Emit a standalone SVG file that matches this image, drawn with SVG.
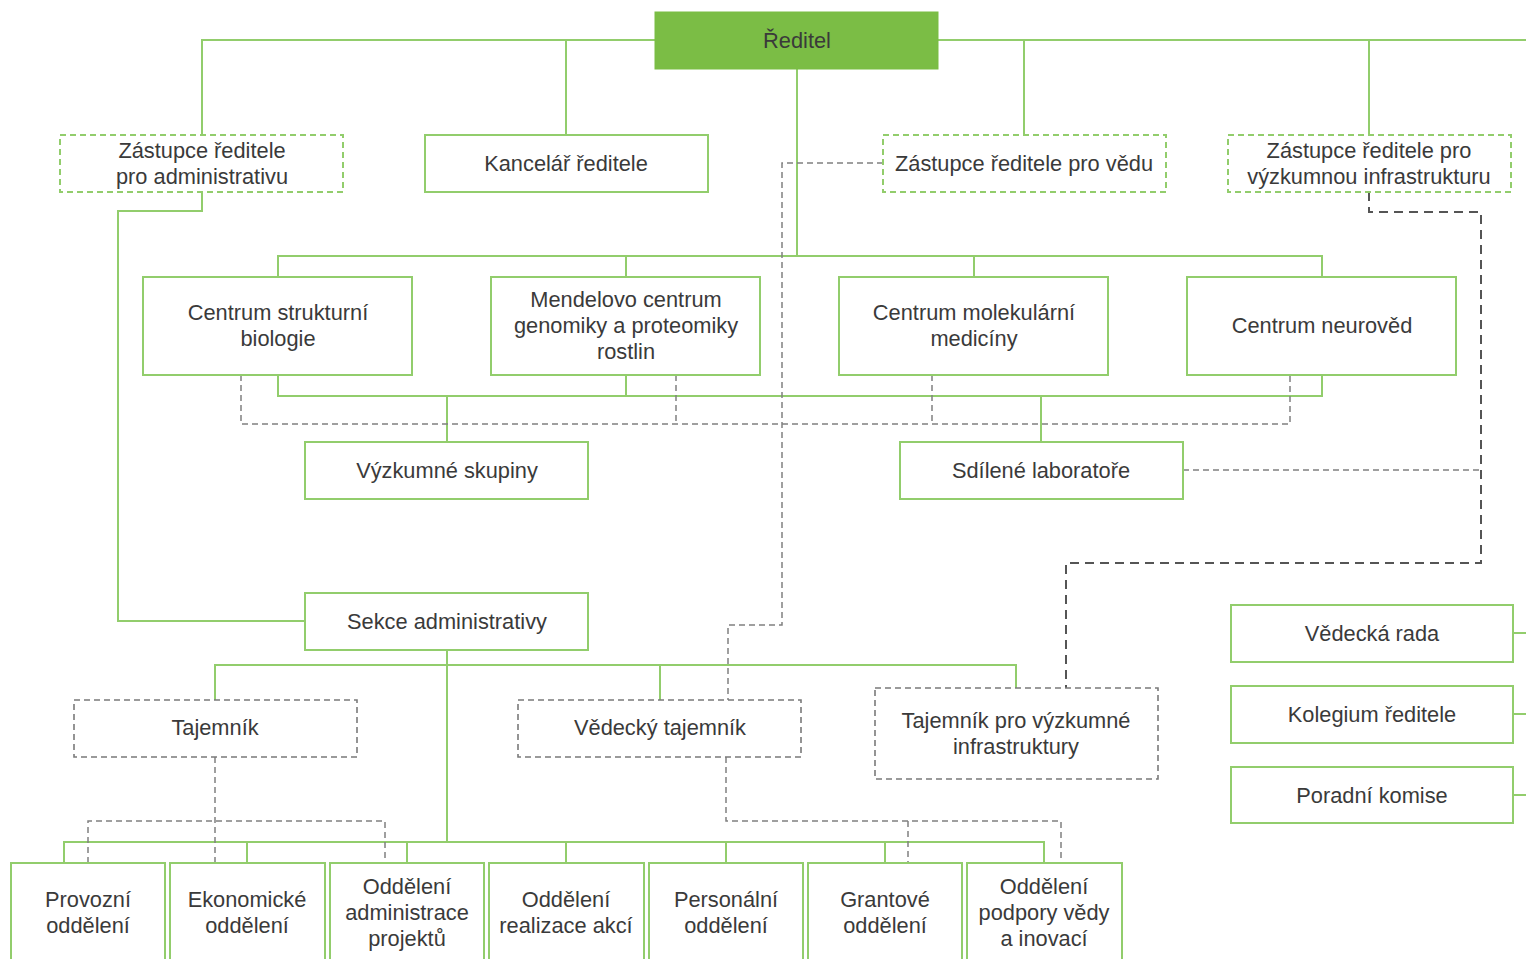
<svg xmlns="http://www.w3.org/2000/svg" width="1526" height="959" viewBox="0 0 1526 959">
<style>
.bx{fill:#fff;stroke:#92cd6c;stroke-width:2}
.bd{fill:#fff;stroke:#92cd6c;stroke-width:2;stroke-dasharray:6 4}
.bg{fill:#fff;stroke:#7a7a7a;stroke-width:1.6;stroke-dasharray:6 4}
.top{fill:#7bbd45;stroke:#7bbd45;stroke-width:1}
.c{fill:none;stroke:#92cd6c;stroke-width:2}
.d{fill:none;stroke:#808080;stroke-width:1.5;stroke-dasharray:6 4}
.dd{fill:none;stroke:#555;stroke-width:2;stroke-dasharray:9 6}
text{font-family:"Liberation Sans",Arial,sans-serif;font-size:21.8px;fill:#3a3a3a;text-anchor:middle;dominant-baseline:central}
</style>
<rect width="1526" height="959" fill="#fff"/>
<g id="connectors">
<path class="c" d="M202,135V40H655M938,40H1526M566,40V135M1024,40V135M1369,40V135"/>
<path class="c" d="M797,69V256M278,277V256H1322V277M626,256V277M974,256V277"/>
<path class="c" d="M278,375V396H1322V375M626,375V396M447,396V442M1041,396V442"/>
<path class="d" d="M241,375V424H1290V375M676,375V424M932,375V424"/>
<path class="c" d="M202,192V211H118V621H305"/>
<path class="d" d="M883,163H782V625H728V700"/>
<path class="dd" d="M1369,192V212H1481V563H1066V688"/>
<path class="d" d="M1183,470H1481"/>
<path class="c" d="M447,650V842M215,700V665H1016V688M660,665V700"/>
<path class="c" d="M64,863V842H1044V863M247,842V863M407,842V863M566,842V863M726,842V863M885,842V863"/>
<path class="d" d="M215,757V863M88,863V821H385V863"/>
<path class="d" d="M726,757V821H1061V863M908,821V863"/>
<path class="c" d="M1513,633H1526M1513,714H1526M1513,795H1526"/>
</g>
<g id="reditel"><rect class="top" x="655" y="12" width="283" height="57"/><text x="797" y="40">Ředitel</text></g>
<g id="zast-admin"><rect class="bd" x="60" y="135" width="283" height="57"/><text x="202" y="150">Zástupce ředitele</text><text x="202" y="176">pro administrativu</text></g>
<g id="kancelar"><rect class="bx" x="425" y="135" width="283" height="57"/><text x="566" y="163">Kancelář ředitele</text></g>
<g id="zast-veda"><rect class="bd" x="883" y="135" width="283" height="57"/><text x="1024" y="163">Zástupce ředitele pro vědu</text></g>
<g id="zast-infra"><rect class="bd" x="1228" y="135" width="283" height="57"/><text x="1369" y="150">Zástupce ředitele pro</text><text x="1369" y="176">výzkumnou infrastrukturu</text></g>
<g id="csb"><rect class="bx" x="143" y="277" width="269" height="98"/><text x="278" y="312">Centrum strukturní</text><text x="278" y="338">biologie</text></g>
<g id="mendel"><rect class="bx" x="491" y="277" width="269" height="98"/><text x="626" y="299">Mendelovo centrum</text><text x="626" y="325">genomiky a proteomiky</text><text x="626" y="351">rostlin</text></g>
<g id="cmm"><rect class="bx" x="839" y="277" width="269" height="98"/><text x="974" y="312">Centrum molekulární</text><text x="974" y="338">medicíny</text></g>
<g id="cn"><rect class="bx" x="1187" y="277" width="269" height="98"/><text x="1322" y="325">Centrum neurověd</text></g>
<g id="vyzk-skup"><rect class="bx" x="305" y="442" width="283" height="57"/><text x="447" y="470">Výzkumné skupiny</text></g>
<g id="sdil-lab"><rect class="bx" x="900" y="442" width="283" height="57"/><text x="1041" y="470">Sdílené laboratoře</text></g>
<g id="sekce"><rect class="bx" x="305" y="593" width="283" height="57"/><text x="447" y="621">Sekce administrativy</text></g>
<g id="tajemnik"><rect class="bg" x="74" y="700" width="283" height="57"/><text x="215" y="727">Tajemník</text></g>
<g id="ved-taj"><rect class="bg" x="518" y="700" width="283" height="57"/><text x="660" y="727">Vědecký tajemník</text></g>
<g id="taj-infra"><rect class="bg" x="875" y="688" width="283" height="91"/><text x="1016" y="720">Tajemník pro výzkumné</text><text x="1016" y="746">infrastruktury</text></g>
<g id="ved-rada"><rect class="bx" x="1231" y="605" width="282" height="57"/><text x="1372" y="633">Vědecká rada</text></g>
<g id="kolegium"><rect class="bx" x="1231" y="686" width="282" height="57"/><text x="1372" y="714">Kolegium ředitele</text></g>
<g id="poradni"><rect class="bx" x="1231" y="767" width="282" height="56"/><text x="1372" y="795">Poradní komise</text></g>
<g id="provozni"><rect class="bx" x="11" y="863" width="154" height="110"/><text x="88" y="899">Provozní</text><text x="88" y="925">oddělení</text></g>
<g id="ekonom"><rect class="bx" x="170" y="863" width="155" height="110"/><text x="247" y="899">Ekonomické</text><text x="247" y="925">oddělení</text></g>
<g id="adm-proj"><rect class="bx" x="330" y="863" width="154" height="110"/><text x="407" y="886">Oddělení</text><text x="407" y="912">administrace</text><text x="407" y="938">projektů</text></g>
<g id="real-akci"><rect class="bx" x="489" y="863" width="155" height="110"/><text x="566" y="899">Oddělení</text><text x="566" y="925">realizace akcí</text></g>
<g id="personal"><rect class="bx" x="649" y="863" width="154" height="110"/><text x="726" y="899">Personální</text><text x="726" y="925">oddělení</text></g>
<g id="grant"><rect class="bx" x="808" y="863" width="154" height="110"/><text x="885" y="899">Grantové</text><text x="885" y="925">oddělení</text></g>
<g id="podpora"><rect class="bx" x="967" y="863" width="155" height="110"/><text x="1044" y="886">Oddělení</text><text x="1044" y="912">podpory vědy</text><text x="1044" y="938">a inovací</text></g>
</svg>
